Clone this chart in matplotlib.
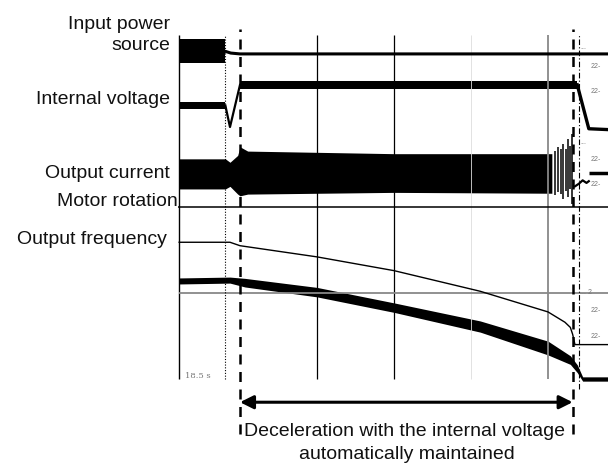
import matplotlib
matplotlib.use("Agg")
import matplotlib.pyplot as plt

plt.rcParams['font.family'] = ['Liberation Sans', 'DejaVu Sans']

# time in grid divisions (0 = start of deceleration), level in screen divisions
T_LEFT, T_RIGHT = -0.79, 4.78
T_OFF = -0.19          # input power lost
T_END = 4.32           # end of controlled deceleration
T_END2 = 4.40

# input power source
power_band = (3.67, 3.95)
power_t = [T_OFF, -0.12, 0.0, T_RIGHT]
power_v = [3.81, 3.79, 3.78, 3.78]

# internal voltage
vdc_before = (3.14, 3.22)
vdc_dip_t = [T_OFF, -0.13, 0.0]
vdc_dip_v = [3.18, 2.93, 3.42]
vdc_band = (3.37, 3.47)
vdc_drop_t = [4.38, 4.53, T_RIGHT]
vdc_drop_v = [3.42, 2.91, 2.90]

# output current envelope
cur_t = [T_LEFT, T_OFF, -0.13, -0.03, 0.0, 0.1, 2.0, 4.05]
cur_top = [2.56, 2.56, 2.52, 2.60, 2.70, 2.65, 2.62, 2.62]
cur_bot = [2.21, 2.21, 2.24, 2.15, 2.13, 2.15, 2.17, 2.16]
spike_t = [4.09, 4.13, 4.17, 4.19, 4.23, 4.26, 4.29, 4.31]
spike_top = [2.65, 2.70, 2.67, 2.73, 2.67, 2.79, 2.71, 2.85]
spike_bot = [2.14, 2.17, 2.15, 2.09, 2.19, 2.12, 2.21, 2.03]
cur_tail_t = [4.35, 4.40, 4.45, 4.50, 4.53]
cur_tail_v = [2.24, 2.27, 2.31, 2.28, 2.30]
cur_bar = 2.40

# output frequency
freq_t = [T_LEFT, -0.13, 0.0, 1.0, 2.0, 3.12, 4.0, 4.22, 4.29, 4.32, 4.35, T_RIGHT]
freq_v = [1.59, 1.59, 1.55, 1.42, 1.26, 1.02, 0.78, 0.66, 0.60, 0.52, 0.40, 0.40]

# motor rotation (centre and half thickness)
rot_t = [T_LEFT, -0.13, 0.065, 1.0, 2.0, 3.12, 4.0, 4.29, 4.38, 4.45, T_RIGHT]
rot_c = [1.14, 1.15, 1.12, 1.01, 0.83, 0.61, 0.36, 0.22, 0.12, 0.0, 0.0]
rot_h = [0.035, 0.035, 0.05, 0.055, 0.055, 0.065, 0.08, 0.05, 0.045, 0.025, 0.025]

labels = ["Input power\nsource", "Internal voltage", "Output current",
          "Motor rotation", "Output frequency"]
label_x = [-0.91, -0.91, -0.91, -0.805, -0.948]
label_y = [4.01, 3.26, 2.40, 2.07, 1.63]

right_marks = ["...", "22-", "22-", "...", "22-", "22-", "... 2", "22-", "22-"]
right_mark_x = [4.42, 4.55, 4.55, 4.42, 4.55, 4.55, 4.42, 4.55, 4.55]
right_mark_y = [3.87, 3.64, 3.35, 2.76, 2.56, 2.27, 1.02, 0.81, 0.51]

fig = plt.figure(figsize=(6.08, 4.64), dpi=100)
ax = fig.add_axes([0, 0, 1, 1])
ax.set_xlim(-240 / 77, 368 / 77)
ax.set_ylim(-84 / 86, 380 / 86)
ax.axis("off")

# screen grid
ax.vlines(T_LEFT, 0, 4.0, color="black", lw=1.0)
ax.vlines([1, 2], 0, 4.0, color="black", lw=0.9)
ax.vlines(3, 0, 4.0, color="#dddddd", lw=0.6)
ax.vlines(4, 0, 4.0, color="#888888", lw=1.3)
ax.hlines(2, -0.805, T_RIGHT, color="black", lw=1.1)
ax.hlines(1, T_LEFT, T_RIGHT, color="#888888", lw=1.3)

# traces
ax.fill_between([T_LEFT, T_OFF], *power_band, color="black", lw=0)
ax.plot(power_t, power_v, color="black", lw=2.2)

ax.fill_between([T_LEFT, T_OFF], *vdc_before, color="black", lw=0)
ax.plot(vdc_dip_t, vdc_dip_v, color="black", lw=1.6)
ax.fill_between([0, 4.38], *vdc_band, color="black", lw=0)
ax.plot(vdc_drop_t, vdc_drop_v, color="black", lw=2.4)

ax.fill_between(cur_t, cur_top, cur_bot, color="black", lw=0)
ax.vlines(spike_t, spike_bot, spike_top, color="black", lw=1.1)
ax.plot(cur_tail_t, cur_tail_v, color="black", lw=1.6)
ax.hlines(cur_bar, 4.53, T_RIGHT, color="black", lw=2.5)

ax.plot(freq_t, freq_v, color="black", lw=1.0)
ax.fill_between(rot_t, [c + h for c, h in zip(rot_c, rot_h)],
                [c - h for c, h in zip(rot_c, rot_h)], color="black", lw=0)

# event markers
ax.vlines(T_OFF, 0, 4.0, color="black", lw=0.8, linestyles=(0, (1, 1.5)))
ax.vlines([0, T_END], -0.64, 4.07, color="black", lw=1.8, linestyles=(0, (4, 3)))
ax.vlines(T_END2, -0.12, 4.0, color="black", lw=0.8, linestyles=(0, (5, 2, 1, 2)))

ax.annotate("", xy=(0, -0.27), xytext=(T_END, -0.27),
            arrowprops=dict(arrowstyle="<|-|>", color="black", lw=2.2,
                            mutation_scale=20, shrinkA=0, shrinkB=0))
ax.text(2.14, -0.60, "Deceleration with the internal voltage", ha="center",
        va="center", fontsize=14, color="#111111",
        bbox=dict(facecolor="white", edgecolor="none", pad=0.5))
ax.text(2.17, -0.87, "automatically maintained", ha="center", va="center",
        fontsize=14, color="#111111")

for txt, x, y in zip(labels, label_x, label_y):
    ax.text(x, y, txt, ha="right", va="center", fontsize=14, color="#111111",
            linespacing=1.3)

ax.text(-0.71, 0.05, "18.5 s", ha="left", va="center", fontsize=6,
        color="#777777", family="DejaVu Serif")
for txt, x, y in zip(right_marks, right_mark_x, right_mark_y):
    ax.text(x, y, txt, ha="left", va="center", fontsize=5, color="#777777")

fig.savefig("out.png", dpi=100)
